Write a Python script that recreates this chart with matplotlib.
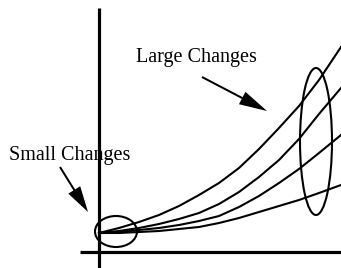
import matplotlib
matplotlib.use("Agg")
import matplotlib.pyplot as plt
from matplotlib.patches import Ellipse

# x positions along the horizontal axis (origin at the axis crossing)
x = [0, 20, 40, 60, 80, 100, 120, 140, 160, 180, 200, 220, 242]

# four response curves, fanning out from a common start
curve1 = [19, 24, 30, 37, 46, 57, 69, 84, 103, 124, 146, 172, 205]
curve2 = [19, 21, 24, 28, 33, 39, 48, 60, 75, 92, 113, 138, 164]
curve3 = [19, 20, 22, 24, 27, 31, 36, 45, 56, 69, 83, 99, 117]
curve4 = [19, 19, 20, 21, 23, 25, 29, 34, 40, 46, 52, 59, 67]
curves = [curve1, curve2, curve3, curve4]

labels = ["Large Changes", "Small Changes"]

plt.rcParams["font.family"] = ["Liberation Serif", "DejaVu Serif"]

fig = plt.figure(figsize=(3.41, 2.68), dpi=100)
ax = fig.add_axes([0, 0, 1, 1])
ax.set_xlim(-99, 242)
ax.set_ylim(-16, 252)
ax.axis("off")

# hand-drawn style axes
ax.plot([0, 0], [-16, 244], color="black", lw=2.3, solid_capstyle="butt")
ax.plot([-19, 242], [0, 0], color="black", lw=2.3, solid_capstyle="butt")

for c in curves:
    ax.plot(x, c, color="black", lw=1.5, solid_joinstyle="round")

# circled regions
ax.add_patch(Ellipse((17, 20.5), 42, 31, fill=False, lw=1.5, ec="black"))
ax.add_patch(Ellipse((217, 110.5), 32, 147, fill=False, lw=1.5, ec="black"))

# pointer arrows
ax.arrow(103, 175, 65, -34, width=2.0, head_width=14, head_length=28,
         length_includes_head=True, color="black", lw=0)
ax.arrow(-39, 85, 28, -45, width=2.0, head_width=14, head_length=26,
         length_includes_head=True, color="black", lw=0)

ax.text(97.5, 190, labels[0], ha="center", va="baseline", fontsize=14.5)
ax.text(-90, 92, labels[1], ha="left", va="baseline", fontsize=14.5)

plt.savefig("out.png", dpi=100)
